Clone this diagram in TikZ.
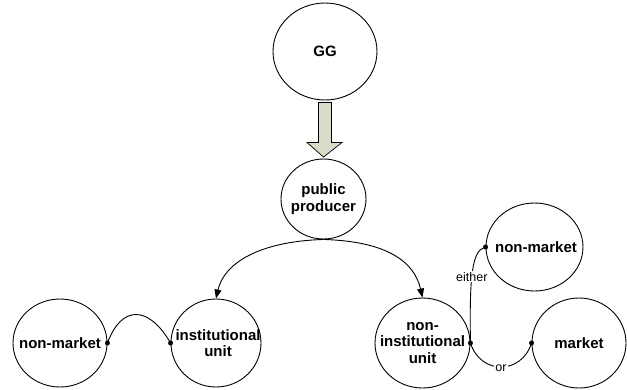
\documentclass[tikz,border=0pt]{standalone}
\usepackage{fontspec}
\setmainfont{Liberation Sans}
\usetikzlibrary{shapes.geometric,arrows.meta,calc}
\definecolor{arrowfill}{RGB}{216,220,200}
\begin{document}
\begin{tikzpicture}[x=1pt,y=-1pt,
  blob/.style={ellipse,draw,line width=0.9pt,inner sep=0pt},
  txt/.style={align=center,inner sep=0pt,font=\fontsize{15}{16.5}\selectfont\bfseries},
  conn/.style={line width=0.9pt},
  lab/.style={fill=white,inner sep=1pt,font=\fontsize{12.5}{14}\selectfont},
  dot/.style={circle,fill=black,inner sep=0pt,minimum size=5pt},
  fat/.style={draw=black,line width=0.7pt,fill=arrowfill}]
\useasboundingbox (0,0) rectangle (627,389);
\node[blob,minimum width=104pt,minimum height=97pt] (GG) at (325,51.5) {};
\node[blob,minimum width=85pt,minimum height=80pt] (pp) at (323.5,199) {};
\node[blob,minimum width=94pt,minimum height=88pt] (nm1) at (60,343) {};
\node[blob,minimum width=90pt,minimum height=88pt] (iu) at (216,343) {};
\node[blob,minimum width=95pt,minimum height=90pt] (niu) at (422.5,343) {};
\node[blob,minimum width=97pt,minimum height=88pt] (nm2) at (534.5,247) {};
\node[blob,minimum width=94pt,minimum height=90pt] (mk) at (579,343) {};
\node[txt] (GGt) at (GG.center) {GG};
\node[txt] (ppt) at (pp.center) {public\\producer};
\node[txt] (nm1t) at (nm1.center) {non-market};
\node[txt] (iut) at ($(iu.center)+(2,0)$) {institutional\\unit};
\node[txt] (niut) at (niu.center) {non-\\institutional\\unit};
\node[txt] (nm2t) at ($(nm2.center)+(1.5,0)$) {non-market};
\node[txt] (mkt) at (mk.center) {market};
% fat arrow
\draw[fat] ($(GG.south)+(-6.5,2)$) -- ($(GG.south)+(6.5,2)$) -- ($(GG.south)+(6.5,42)$)
  -- ($(GG.south)+(17,42)$) -- ($(pp.north)+(0,-1.5)$) -- ($(GG.south)+(-18,42)$)
  -- ($(GG.south)+(-6.5,42)$) -- cycle;
% curved arrows
\draw[conn,-{Triangle[length=9pt,width=7pt]}] (pp.south) .. controls ($(pp.south)+(-65,2)$) and ($(iu.north)+(8,-35)$) .. (iu.north);
\draw[conn,-{Triangle[length=9pt,width=7pt]}] (pp.south) .. controls ($(pp.south)+(65,2)$) and ($(niu.north)+(-8,-35)$) .. (niu.north);
% small links
\draw[conn] (nm1.east) .. controls ($(nm1.east)+(14,-38)$) and ($(iu.west)+(-22,-38)$) .. (iu.west);
\draw[conn] (niu.east) .. controls ($(niu.east)+(-1,-65)$) and ($(nm2.west)+(-14,3)$) .. (nm2.west)
  node[lab,pos=0.45] {either};
\draw[conn] (niu.east) .. controls ($(niu.east)+(10,32)$) and ($(mk.west)+(-10,32)$) .. (mk.west)
  node[lab,pos=0.5,yshift=-1pt] {or};
\node[dot] (d1) at (nm1.east) {};
\node[dot] (d2) at (iu.west) {};
\node[dot] (d3) at (niu.east) {};
\node[dot] (d4) at (nm2.west) {};
\node[dot] (d5) at (mk.west) {};
\end{tikzpicture}
\end{document}
